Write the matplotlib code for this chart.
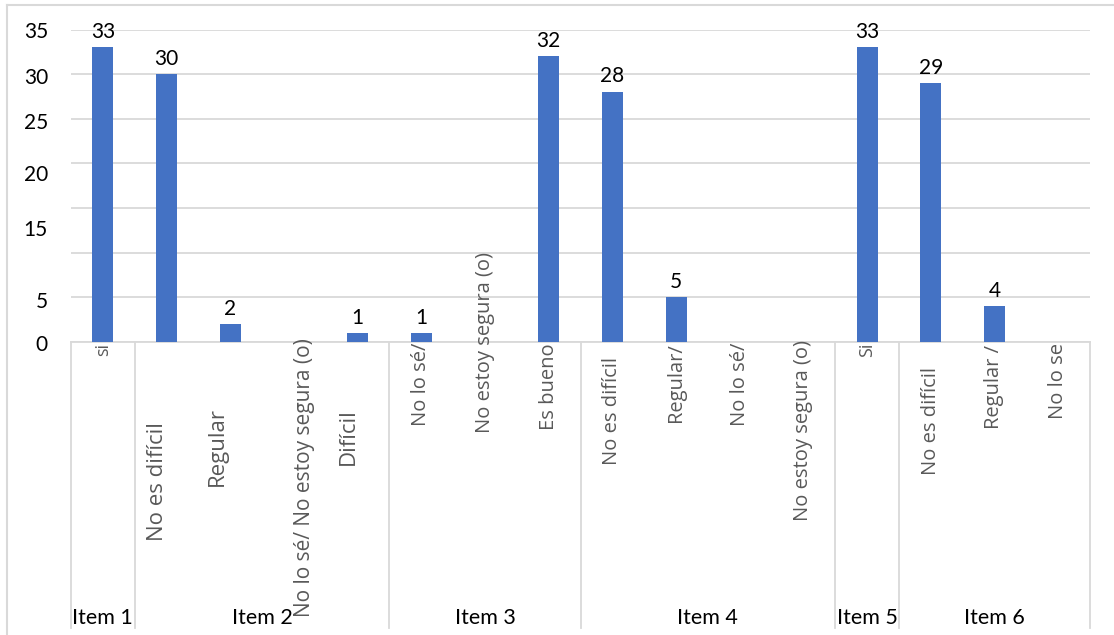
import matplotlib.pyplot as plt
from matplotlib.lines import Line2D
from matplotlib.transforms import blended_transform_factory

items = ['Item 1', 'Item 2', 'Item 3', 'Item 4', 'Item 5', 'Item 6']
item_sizes = [1, 4, 3, 4, 1, 3]
answers = ['si', 'No es difícil', 'Regular', 'No lo sé/ No estoy segura (o)', 'Difícil',
           'No lo sé/', 'No estoy segura (o)', 'Es bueno',
           'No es difícil', 'Regular/', 'No lo sé/', 'No estoy segura (o)',
           'Si',
           'No es difícil', 'Regular /', 'No lo se']
counts = [33, 30, 2, 0, 1, 1, 0, 32, 28, 5, 0, 0, 33, 29, 4, 0]
ytick_labels = ['0', '5', '15', '20', '25', '30', '35']

# where the y labels sit (data units) and how the rotated labels are placed
ytick_label_pos = [-0.3, 4.5, 12.5, 18.7, 24.5, 29.6, 34.7]
label_top_px = [343, 422, 407, 338, 408, 343, 252, 343, 357, 343, 343, 340, 343, 367, 345, 343]
label_dx = [0, -0.14, -0.2, 0.16, -0.14, 0, 0, 0, 0, 0, 0, 0, 0, 0, 0, 0]
label_size = [13, 16, 16, 15, 16, 14.5, 14.5, 14.5, 14.5, 14.5, 14.5, 14.5, 13, 14.5, 14.5, 14.5]

W, H = 1114, 635
BAR = '#4472C4'
GRID = '#d9d9d9'
GRAY = '#595959'

fig = plt.figure(figsize=(W / 100, H / 100), dpi=100)
ax = fig.add_axes([71 / W, 1 - 342 / H, (1090 - 71) / W, (342 - 29.5) / H])

x = list(range(len(counts)))
ax.bar(x, counts, width=0.33, color=BAR, zorder=3)
ax.set_xlim(-0.5, len(counts) - 0.5)
ax.set_ylim(0, 35)

ax.set_yticks(range(0, 36, 5))
ax.set_yticklabels([])
ax.tick_params(length=0)
ax.set_xticks([])
ax.grid(axis='y', color=GRID, linewidth=1.3, zorder=0)
for side in ['left', 'right', 'top']:
    ax.spines[side].set_visible(False)
ax.spines['bottom'].set_color(GRID)
ax.spines['bottom'].set_linewidth(1.3)

ytr = blended_transform_factory(ax.transAxes, ax.transData)
for lab, pos in zip(ytick_labels, ytick_label_pos):
    ax.text(-23 / (1090 - 71), pos, lab, transform=ytr, ha='right', va='center',
            fontsize=15, family='Lato', color='black')

for xi, c in zip(x, counts):
    if c > 0:
        ax.annotate(str(c), (xi, c), xytext=(0, 4), textcoords='offset points',
                    ha='center', va='bottom', fontsize=15, family='Lato')

# rotated answer labels under the axis
lab_tr = blended_transform_factory(ax.transData, fig.transFigure)
for xi, text, top, dx, fs in zip(x, answers, label_top_px, label_dx, label_size):
    ax.text(xi + dx, 1 - top / H, text, transform=lab_tr, rotation=90,
            ha='center', va='top', fontsize=fs, family='Open Sans', color=GRAY,
            clip_on=False)

# item separators and group names
sep_tr = blended_transform_factory(ax.transData, fig.transFigure)
edges = [-0.5]
for n in item_sizes:
    edges.append(edges[-1] + n)
for e in edges:
    ax.add_line(Line2D([e, e], [1 - 342 / H, 1 - 628 / H], transform=sep_tr,
                       color=GRID, linewidth=1.3, clip_on=False))
for name, a, b in zip(items, edges[:-1], edges[1:]):
    ax.text((a + b) / 2, 1 - 618 / H, name, transform=sep_tr, ha='center',
            va='center', fontsize=15.5, family='Lato', color='black')

# chart frame
fig.add_artist(Line2D([7 / W, 7 / W], [0, 1 - 5 / H], transform=fig.transFigure,
                      color=GRID, linewidth=1.5))
fig.add_artist(Line2D([7 / W, 1], [1 - 5 / H, 1 - 5 / H], transform=fig.transFigure,
                      color=GRID, linewidth=1.5))

fig.savefig('out.png', dpi=100)
